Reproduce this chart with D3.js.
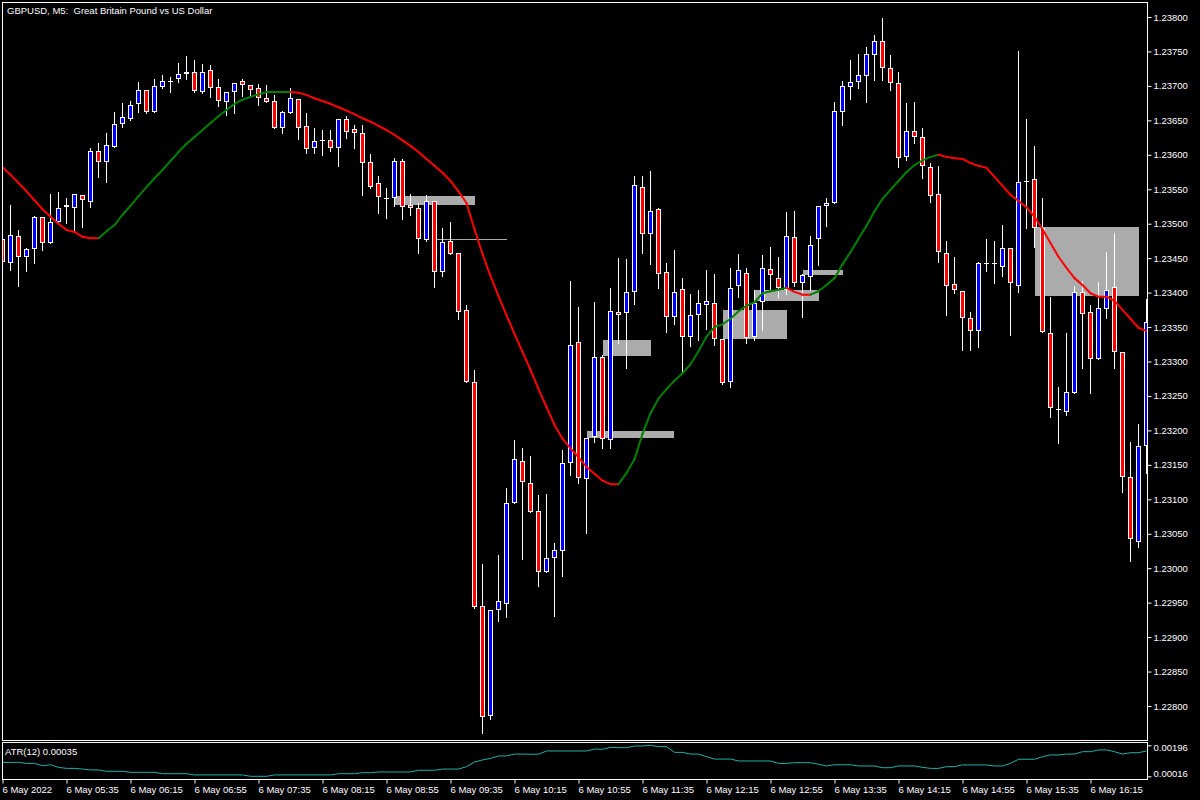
<!DOCTYPE html>
<html><head><meta charset="utf-8">
<script src="https://cdn.jsdelivr.net/npm/d3@7"></script>
<style>
html,body{margin:0;padding:0;background:#000;}
svg{display:block;}
text{font-family:"Liberation Sans",Arial,sans-serif;font-size:9.5px;fill:#fff;}
</style></head><body>
<svg id="c" width="1200" height="800"></svg>
<script>
// ---------- data ----------
const openP=[1.23478,1.23443,1.23482,1.23452,1.23463,1.23510,1.23472,1.23502,1.23527,1.23523,
1.23542,1.23531,1.23606,1.23590,1.23611,1.23645,1.23652,1.23674,1.23694,1.23662,
1.23698,1.23707,1.23710,1.23717,1.23720,1.23691,1.23723,1.23698,1.23677,1.23691,
1.23707,1.23701,1.23697,1.23682,1.23678,1.23639,1.23661,1.23681,1.23642,1.23610,
1.23621,1.23621,1.23610,1.23652,1.23637,1.23632,1.23590,1.23559,1.23537,1.23537,
1.23591,1.23527,1.23523,1.23476,1.23533,1.23430,1.23475,1.23457,1.23375,1.23270,
1.22945,1.22785,1.22939,1.22948,1.23095,1.23156,1.23124,1.23083,1.22994,1.23015,
1.23025,1.23153,1.23328,1.23129,1.23190,1.23307,1.23186,1.23372,1.23370,1.23401,
1.23553,1.23485,1.23521,1.23430,1.23365,1.23405,1.23336,1.23367,1.23382,1.23385,
1.23333,1.23270,1.23410,1.23428,1.23336,1.23386,1.23434,1.23421,1.23404,1.23481,
1.23414,1.23423,1.23478,1.23526,1.23530,1.23662,1.23698,1.23706,1.23714,1.23745,
1.23765,1.23726,1.23704,1.23597,1.23635,1.23626,1.23582,1.23543,1.23457,1.23412,
1.23402,1.23363,1.23344,1.23443,1.23443,1.23437,1.23465,1.23410,1.23562,1.23565,
1.23494,1.23341,1.23231,1.23227,1.23254,1.23401,1.23372,1.23304,1.23376,1.23408,
1.23314,1.23132,1.23038,1.23177];
const highP=[1.23482,1.23527,1.23491,1.23465,1.23511,1.23510,1.23543,1.23546,1.23537,1.23543,
1.23542,1.23610,1.23617,1.23632,1.23662,1.23675,1.23678,1.23706,1.23694,1.23710,
1.23716,1.23713,1.23733,1.23743,1.23738,1.23732,1.23730,1.23710,1.23691,1.23704,
1.23710,1.23701,1.23703,1.23701,1.23687,1.23664,1.23697,1.23681,1.23661,1.23639,
1.23636,1.23636,1.23652,1.23656,1.23643,1.23643,1.23601,1.23569,1.23552,1.23595,
1.23594,1.23543,1.23530,1.23542,1.23533,1.23494,1.23502,1.23457,1.23382,1.23288,
1.23006,1.22939,1.23019,1.23116,1.23186,1.23174,1.23163,1.23106,1.23108,1.23037,
1.23172,1.23417,1.23379,1.23189,1.23386,1.23309,1.23407,1.23450,1.23449,1.23569,
1.23569,1.23576,1.23523,1.23443,1.23462,1.23421,1.23398,1.23404,1.23433,1.23427,
1.23333,1.23436,1.23456,1.23436,1.23404,1.23455,1.23466,1.23452,1.23517,1.23518,
1.23427,1.23482,1.23526,1.23537,1.23677,1.23707,1.23738,1.23746,1.23756,1.23774,
1.23799,1.23745,1.23720,1.23675,1.23677,1.23639,1.23588,1.23584,1.23475,1.23452,
1.23402,1.23372,1.23444,1.23478,1.23475,1.23498,1.23465,1.23751,1.23652,1.23613,
1.23537,1.23394,1.23263,1.23341,1.23410,1.23417,1.23382,1.23415,1.23459,1.23486,
1.23314,1.23183,1.23209,1.23391];
const lowP=[1.23439,1.23433,1.23410,1.23431,1.23443,1.23462,1.23472,1.23501,1.23501,1.23488,
1.23495,1.23524,1.23568,1.23561,1.23611,1.23640,1.23651,1.23662,1.23661,1.23662,
1.23697,1.23691,1.23706,1.23710,1.23691,1.23690,1.23684,1.23671,1.23658,1.23661,
1.23685,1.23684,1.23672,1.23677,1.23639,1.23632,1.23661,1.23623,1.23603,1.23603,
1.23600,1.23606,1.23584,1.23624,1.23610,1.23542,1.23552,1.23516,1.23508,1.23526,
1.23507,1.23513,1.23457,1.23475,1.23408,1.23424,1.23456,1.23362,1.23270,1.22942,
1.22761,1.22781,1.22923,1.22929,1.23095,1.23013,1.23082,1.22974,1.22994,1.22931,
1.22989,1.23135,1.23124,1.23051,1.23183,1.23174,1.23174,1.23327,1.23291,1.23383,
1.23457,1.23441,1.23407,1.23343,1.23354,1.23283,1.23322,1.23331,1.23347,1.23324,
1.23267,1.23263,1.23394,1.23327,1.23331,1.23346,1.23404,1.23394,1.23398,1.23410,
1.23365,1.23404,1.23440,1.23497,1.23530,1.23643,1.23681,1.23697,1.23677,1.23709,
1.23709,1.23694,1.23582,1.23592,1.23617,1.23566,1.23531,1.23444,1.23367,1.23399,
1.23317,1.23317,1.23321,1.23431,1.23414,1.23424,1.23338,1.23401,1.23494,1.23466,
1.23343,1.23219,1.23182,1.23222,1.23254,1.23291,1.23254,1.23304,1.23363,1.23291,
1.23111,1.23010,1.23031,1.23138];
const closeP=[1.23444,1.23484,1.23452,1.23463,1.23510,1.23472,1.23502,1.23523,1.23524,1.23543,
1.23534,1.23606,1.23590,1.23614,1.23645,1.23655,1.23672,1.23694,1.23662,1.23700,
1.23707,1.23707,1.23717,1.23720,1.23693,1.23720,1.23697,1.23678,1.23691,1.23704,
1.23701,1.23694,1.23682,1.23677,1.23639,1.23662,1.23682,1.23639,1.23608,1.23620,
1.23621,1.23610,1.23652,1.23633,1.23632,1.23588,1.23553,1.23539,1.23537,1.23591,
1.23524,1.23523,1.23478,1.23533,1.23430,1.23473,1.23456,1.23372,1.23270,1.22944,
1.22784,1.22939,1.22952,1.23095,1.23158,1.23125,1.23082,1.22994,1.23015,1.23026,
1.23153,1.23324,1.23131,1.23189,1.23307,1.23188,1.23373,1.23367,1.23401,1.23556,
1.23485,1.23518,1.23427,1.23365,1.23401,1.23336,1.23367,1.23385,1.23388,1.23333,
1.23269,1.23407,1.23433,1.23334,1.23385,1.23436,1.23426,1.23407,1.23482,1.23414,
1.23426,1.23469,1.23526,1.23530,1.23664,1.23700,1.23706,1.23716,1.23746,1.23765,
1.23726,1.23704,1.23595,1.23635,1.23626,1.23584,1.23540,1.23459,1.23410,1.23404,
1.23363,1.23344,1.23443,1.23443,1.23443,1.23465,1.23414,1.23561,1.23562,1.23494,
1.23343,1.23233,1.23231,1.23256,1.23401,1.23369,1.23304,1.23378,1.23404,1.23314,
1.23132,1.23042,1.23177,1.23357];
const maP=[1.23582,1.23571,1.23559,1.23547,1.23534,1.23521,1.23510,1.23500,1.23491,1.23488,
1.23481,1.23479,1.23479,1.23489,1.23498,1.23513,1.23526,1.23540,1.23553,1.23566,
1.23578,1.23591,1.23604,1.23616,1.23626,1.23636,1.23646,1.23656,1.23665,1.23674,
1.23680,1.23684,1.23688,1.23691,1.23691,1.23691,1.23691,1.23690,1.23687,1.23682,
1.23678,1.23674,1.23669,1.23664,1.23659,1.23653,1.23648,1.23642,1.23636,1.23629,
1.23621,1.23613,1.23604,1.23594,1.23584,1.23574,1.23562,1.23547,1.23530,1.23492,
1.23456,1.23424,1.23395,1.23367,1.23340,1.23314,1.23288,1.23260,1.23234,1.23208,
1.23188,1.23174,1.23161,1.23147,1.23137,1.23127,1.23122,1.23122,1.23138,1.23158,
1.23195,1.23225,1.23246,1.23260,1.23272,1.23283,1.23296,1.23315,1.23336,1.23350,
1.23354,1.23362,1.23373,1.23381,1.23386,1.23399,1.23402,1.23404,1.23407,1.23401,
1.23397,1.23397,1.23402,1.23411,1.23421,1.23441,1.23459,1.23478,1.23497,1.23518,
1.23536,1.23549,1.23562,1.23575,1.23585,1.23592,1.23597,1.23600,1.23597,1.23595,
1.23594,1.23588,1.23584,1.23581,1.23568,1.23555,1.23542,1.23533,1.23524,1.23510,
1.23492,1.23472,1.23452,1.23436,1.23421,1.23411,1.23399,1.23394,1.23394,1.23388,
1.23375,1.23362,1.23349,1.23344];
const atrV=[0.00097,0.00097,0.00097,0.00091,0.00091,0.00078,0.00083,0.00068,0.00062,0.00062,
0.00058,0.00053,0.00053,0.00045,0.00045,0.00045,0.00039,0.00039,0.00039,0.00039,
0.00031,0.00031,0.00031,0.00031,0.00024,0.00024,0.00024,0.00024,0.00024,0.00024,
0.00024,0.00016,0.00016,0.00016,0.00024,0.00024,0.00024,0.00024,0.00024,0.00024,
0.00024,0.00024,0.00031,0.00031,0.00031,0.00037,0.00037,0.00041,0.00041,0.00041,
0.00041,0.00041,0.00051,0.00051,0.00051,0.00058,0.00058,0.00058,0.00072,0.00099,
0.00111,0.00120,0.00134,0.00134,0.00145,0.00145,0.00144,0.00144,0.00163,0.00163,
0.00163,0.00163,0.00163,0.00163,0.00174,0.00173,0.00184,0.00182,0.00182,0.00192,
0.00192,0.00196,0.00188,0.00188,0.00155,0.00155,0.00145,0.00145,0.00130,0.00116,
0.00116,0.00116,0.00105,0.00105,0.00105,0.00105,0.00105,0.00091,0.00091,0.00095,
0.00095,0.00095,0.00086,0.00076,0.00083,0.00083,0.00083,0.00076,0.00076,0.00076,
0.00066,0.00066,0.00076,0.00076,0.00076,0.00068,0.00062,0.00062,0.00072,0.00072,
0.00082,0.00082,0.00082,0.00082,0.00076,0.00076,0.00091,0.00115,0.00115,0.00115,
0.00130,0.00140,0.00140,0.00145,0.00145,0.00159,0.00159,0.00169,0.00169,0.00159,
0.00145,0.00153,0.00153,0.00163];
const zoneStart=[49,54,75,73,90,94,100,129];
const zoneEnd=[59,63,81,84,98,102,105,142];
const zoneTop=[1.23540,1.23478,1.23331,1.23199,1.23375,1.23404,1.23433,1.23495];
const zoneBottom=[1.23527,1.23477,1.23308,1.23189,1.23333,1.23388,1.23426,1.23395];
const priceTicks=[1.22800,1.22850,1.22900,1.22950,1.23000,1.23050,1.23100,1.23150,1.23200,1.23250,1.23300,
1.23350,1.23400,1.23450,1.23500,1.23550,1.23600,1.23650,1.23700,1.23750,1.23800];
const atrTicks=[0.00196,0.00016];
const timeTickBars=[0,8,16,24,32,40,48,56,64,72,80,88,96,104,112,120,128,136];
const timeTickLabels=["6 May 2022","6 May 05:35","6 May 06:15","6 May 06:55","6 May 07:35","6 May 08:15",
"6 May 08:55","6 May 09:35","6 May 10:15","6 May 10:55","6 May 11:35","6 May 12:15","6 May 12:55",
"6 May 13:35","6 May 14:15","6 May 14:55","6 May 15:35","6 May 16:15"];
const titleText="GBPUSD, M5:  Great Britain Pound vs US Dollar";
const atrText="ATR(12) 0.00035";

// ---------- drawing ----------
const svg=d3.select('#c');
svg.append('rect').attr('width',1200).attr('height',800).attr('fill','#000');
const x=d3.scaleLinear().domain([0,143]).range([2.5,1146.5]);
const y=d3.scaleLinear().domain([1.228,1.238]).range([706,17]);
const ya=d3.scaleLinear().domain([0.00016,0.00196]).range([776.3,745.3]);

const defs=svg.append('defs');
defs.append('clipPath').attr('id','mainClip').append('rect').attr('x',3).attr('y',3).attr('width',1144).attr('height',737);
defs.append('clipPath').attr('id','atrClip').append('rect').attr('x',3).attr('y',743).attr('width',1144).attr('height',36);

const main=svg.append('g').attr('clip-path','url(#mainClip)');

// zones
main.append('g').selectAll('rect').data(zoneStart).join('rect')
  .attr('x',(d)=>Math.round(x(d)))
  .attr('width',(d,k)=>Math.round(x(zoneEnd[k]))-Math.round(x(d)))
  .attr('y',(d,k)=>Math.round(y(zoneTop[k])))
  .attr('height',(d,k)=>Math.max(1,Math.round(y(zoneBottom[k]))-Math.round(y(zoneTop[k]))))
  .attr('fill','#ababab');

// candles
const idx=d3.range(openP.length);
const gC=main.append('g');
gC.selectAll('line.wick').data(idx).join('line').attr('class','wick')
  .attr('x1',i=>x(i)).attr('x2',i=>x(i))
  .attr('y1',i=>Math.round(y(highP[i]))).attr('y2',i=>Math.round(y(lowP[i]))+1)
  .attr('stroke','#fff').attr('stroke-width',1);
const isDoji=i=>Math.abs(Math.round(y(openP[i]))-Math.round(y(closeP[i])))<2;
gC.selectAll('rect.body').data(idx.filter(i=>!isDoji(i))).join('rect').attr('class','body')
  .attr('x',i=>x(i)-2).attr('width',4)
  .attr('y',i=>Math.round(Math.min(y(openP[i]),y(closeP[i])))+0.5)
  .attr('height',i=>Math.round(Math.max(y(openP[i]),y(closeP[i])))-Math.round(Math.min(y(openP[i]),y(closeP[i])))-1)
  .attr('fill',i=>closeP[i]>openP[i]?'#0000ff':'#ff0000')
  .attr('stroke','#fff').attr('stroke-width',1);
gC.selectAll('line.doji').data(idx.filter(isDoji)).join('line').attr('class','doji')
  .attr('x1',i=>x(i)-2.5).attr('x2',i=>x(i)+2.5)
  .attr('y1',i=>Math.round(y(closeP[i]))+0.5).attr('y2',i=>Math.round(y(closeP[i]))+0.5)
  .attr('stroke','#fff').attr('stroke-width',1);

// moving average, coloured by direction
let prevCol='#ff0000';
const segs=d3.range(1,maP.length).map(i=>{
  let c=prevCol;
  if(maP[i]>maP[i-1]) c='#008000'; else if(maP[i]<maP[i-1]) c='#ff0000';
  prevCol=c; return {i,c};
});
main.append('g').selectAll('line').data(segs).join('line')
  .attr('x1',d=>x(d.i-1)).attr('x2',d=>x(d.i))
  .attr('y1',d=>y(maP[d.i-1])).attr('y2',d=>y(maP[d.i]))
  .attr('stroke',d=>d.c).attr('stroke-width',2).attr('stroke-linecap','round');

// ATR
svg.append('g').attr('clip-path','url(#atrClip)').append('path').datum(atrV)
  .attr('d',d3.line().x((d,i)=>x(i)).y(d=>ya(d)))
  .attr('fill','none').attr('stroke','#20b2aa').attr('stroke-width',1);

// frames
svg.append('rect').attr('x',2.5).attr('y',2.5).attr('width',1145).attr('height',738)
  .attr('fill','none').attr('stroke','#fff');
svg.append('rect').attr('x',2.5).attr('y',742.5).attr('width',1145).attr('height',37)
  .attr('fill','none').attr('stroke','#fff');

// price axis
const pa=svg.append('g').attr('transform','translate(1147.5,0)')
  .call(d3.axisRight(y).tickValues(priceTicks).tickSize(4).tickPadding(2).tickFormat(d3.format('.5f')));
pa.select('.domain').remove();
pa.selectAll('line').attr('stroke','#fff');
pa.selectAll('text').attr('fill','#fff').style('font-family','"Liberation Sans",Arial,sans-serif').style('font-size','9.5px');

// atr axis
const aa=svg.append('g').attr('transform','translate(1147.5,0)')
  .call(d3.axisRight(ya).tickValues(atrTicks).tickSize(4).tickPadding(2).tickFormat(d3.format('.5f')));
aa.select('.domain').remove();
aa.selectAll('line').attr('stroke','#fff');
aa.selectAll('text').attr('fill','#fff').style('font-family','"Liberation Sans",Arial,sans-serif').style('font-size','9.5px')
  .attr('y',(d)=>d>0.001?2.5:-3.3);

// time axis
const ta=svg.append('g').attr('transform','translate(0,779.5)')
  .call(d3.axisBottom(x).tickValues(timeTickBars).tickSize(4).tickPadding(3).tickFormat((d,k)=>timeTickLabels[k]));
ta.select('.domain').remove();
ta.selectAll('line').attr('stroke','#fff');
ta.selectAll('text').attr('fill','#fff').attr('text-anchor','start').attr('x',-0.5)
  .style('font-family','"Liberation Sans",Arial,sans-serif').style('font-size','9.5px');

// labels
svg.append('text').attr('x',7).attr('y',13.5).attr('xml:space','preserve').style('white-space','pre').text(titleText);
svg.append('text').attr('x',5).attr('y',755).text(atrText);
</script>
</body></html>
